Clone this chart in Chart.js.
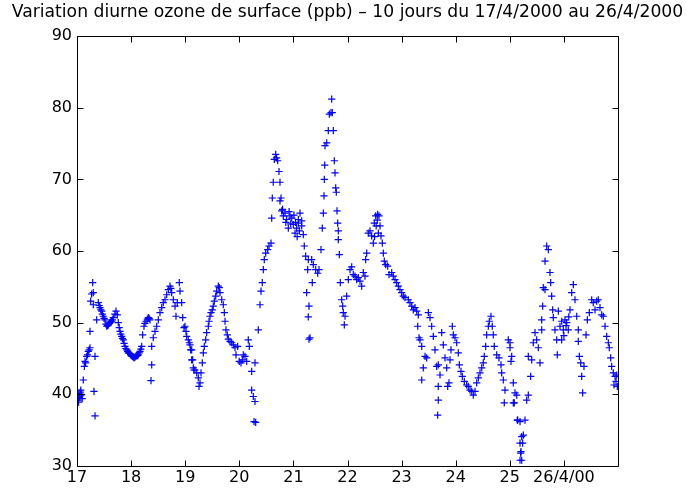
<!DOCTYPE html>
<html><head><meta charset="utf-8">
<script src="https://cdn.jsdelivr.net/npm/chart.js@4.4.1/dist/chart.umd.min.js"></script>
<style>html,body{margin:0;padding:0;background:#fff;overflow:hidden}</style>
</head><body>
<canvas id="c" width="686" height="489"></canvas>
<script>
const titleText = 'Variation diurne ozone de surface (ppb) \u2013 10 jours du 17/4/2000 au 26/4/2000';
const xTickValues = [17, 18, 19, 20, 21, 22, 23, 24, 25, 26];
const xTickLabels = ['17', '18', '19', '20', '21', '22', '23', '24', '25', '26/4/00'];
const yTickValues = [30, 40, 50, 60, 70, 80, 90];

const days = [
17.000,17.012,17.024,17.036,17.048,17.060,17.072,17.084,17.096,17.116,
17.135,17.148,17.160,17.179,17.195,17.209,17.225,17.240,17.240,17.253,
17.270,17.290,17.301,17.301,17.314,17.333,17.333,17.364,17.394,17.410,
17.425,17.440,17.457,17.470,17.486,17.500,17.518,17.535,17.549,17.565,
17.579,17.595,17.610,17.625,17.641,17.655,17.671,17.700,17.721,17.745,
17.763,17.780,17.795,17.810,17.826,17.840,17.856,17.870,17.887,17.903,
17.919,17.935,17.948,17.965,17.980,17.995,18.011,18.026,18.041,18.056,
18.072,18.088,18.104,18.118,18.133,18.150,18.165,18.180,18.196,18.214,
18.238,18.255,18.275,18.300,18.318,18.334,18.349,18.381,18.368,18.381,
18.410,18.442,18.473,18.503,18.534,18.566,18.595,18.627,18.658,18.688,
18.719,18.735,18.750,18.780,18.812,18.830,18.854,18.891,18.904,18.935,
18.954,18.978,18.996,19.015,19.028,19.057,19.075,19.089,19.101,19.120,
19.120,19.138,19.150,19.163,19.181,19.213,19.242,19.255,19.274,19.292,
19.316,19.335,19.353,19.379,19.397,19.427,19.440,19.458,19.477,19.501,
19.519,19.538,19.564,19.582,19.612,19.630,19.643,19.675,19.704,19.723,
19.736,19.754,19.778,19.797,19.828,19.860,19.889,19.920,19.939,19.970,
20.000,20.031,20.055,20.074,20.105,20.137,20.166,20.185,20.229,20.290,
20.229,20.259,20.290,20.272,20.303,20.351,20.383,20.401,20.425,20.444,
20.462,20.488,20.525,20.549,20.586,20.599,20.610,20.628,20.647,20.673,
20.690,20.710,20.734,20.752,20.771,20.752,20.784,20.813,20.845,20.876,
20.906,20.937,20.969,20.998,21.030,21.061,21.091,21.122,21.153,21.091,
21.153,21.183,21.201,21.227,21.275,21.264,21.338,21.368,21.412,21.449,
21.473,21.349,21.245,21.288,21.275,21.307,21.288,21.510,21.534,21.553,
21.566,21.571,21.579,21.584,21.616,21.645,21.664,21.695,21.708,21.719,
21.738,21.756,21.769,21.782,21.793,21.806,21.819,21.830,21.830,21.849,
21.867,21.893,21.911,21.922,21.941,21.954,21.985,22.015,22.046,22.078,
22.107,22.139,22.170,22.200,22.231,22.262,22.292,22.323,22.336,22.355,
22.384,22.416,22.447,22.477,22.495,22.521,22.558,22.582,22.601,22.619,
22.643,22.662,22.680,22.706,22.743,22.767,22.817,22.846,22.878,22.909,
22.939,22.970,23.002,23.031,23.063,23.124,23.155,23.187,23.216,23.248,
23.279,23.309,23.298,23.322,23.340,23.372,23.433,23.401,23.372,23.464,
23.494,23.525,23.556,23.586,23.617,23.649,23.678,23.710,23.678,23.667,
23.678,23.741,23.771,23.802,23.834,23.852,23.876,23.895,23.913,23.937,
23.956,23.987,24.019,24.048,24.067,24.098,24.122,24.159,24.203,24.233,
24.264,24.296,24.325,24.357,24.388,24.418,24.449,24.481,24.510,24.528,
24.554,24.573,24.603,24.621,24.652,24.676,24.695,24.713,24.758,24.800,
24.837,24.850,24.880,24.911,24.898,24.972,25.004,25.022,25.065,25.096,
25.083,25.146,25.189,25.220,25.238,25.207,25.189,25.004,25.035,25.128,
25.065,25.139,25.281,25.250,25.189,25.201,25.220,25.342,25.312,25.386,
25.342,25.405,25.434,25.466,25.497,25.527,25.558,25.590,25.590,25.619,
25.651,25.608,25.682,25.712,25.651,25.743,25.756,25.774,25.793,25.804,
25.835,25.867,25.878,25.897,25.928,25.959,25.989,26.020,26.052,26.081,
26.113,26.144,26.174,26.205,26.237,26.266,26.266,26.285,26.311,26.329,
26.347,26.371,26.409,26.433,26.470,26.514,26.543,26.575,26.606,26.636,
26.667,26.699,26.728,26.760,26.791,26.821,26.839,26.865,26.883,26.913,
26.945,26.976,26.987,26.926,26.963,20.800,20.860,20.920,20.950,21.010,
21.040,21.070,21.110,22.500,22.530,22.550,22.570,25.960,26.000,26.040,
26.090,17.030,17.070
];

const ozone = [
39.5,40.0,39.2,40.1,39.6,40.3,39.8,40.0,39.4,42.0,
43.9,44.6,44.4,45.3,45.5,46.0,46.2,46.5,48.8,53.0,
54.0,55.6,54.2,52.5,40.4,37.0,45.3,50.4,52.8,52.4,
52.1,51.8,51.6,51.2,50.9,50.6,50.4,49.8,49.5,49.6,
49.7,49.9,50.0,50.1,50.2,50.4,50.7,51.2,51.6,51.1,
50.0,49.3,48.8,48.4,48.1,47.8,47.6,47.1,46.7,46.4,
46.2,46.0,45.8,45.7,45.7,45.5,45.4,45.3,45.2,45.1,
45.2,45.3,45.4,45.4,45.5,45.8,46.0,46.3,46.7,48.3,
49.5,49.9,50.2,50.5,50.7,50.6,50.4,44.1,41.9,46.7,
47.9,48.8,49.5,50.4,51.4,52.1,52.8,53.2,53.9,54.6,
55.1,54.8,54.2,53.2,52.3,50.9,52.8,55.6,54.4,52.8,
50.7,49.3,49.5,48.8,48.1,47.6,47.2,46.9,46.2,46.2,
44.8,44.8,43.7,43.4,43.4,43.0,42.3,41.1,41.6,43.0,
44.4,45.8,46.7,47.6,48.6,49.5,50.2,50.9,51.4,51.8,
52.3,53.0,53.7,54.4,55.1,54.9,54.2,53.2,52.5,51.4,
50.2,49.0,48.3,47.7,47.4,47.2,46.9,46.5,45.5,46.7,
44.6,44.4,44.8,45.5,45.3,44.6,47.6,46.7,43.2,44.4,
40.6,39.7,39.0,36.2,36.1,49.0,52.5,54.4,55.6,57.4,
58.8,59.7,60.2,60.7,61.1,64.6,67.4,69.6,72.8,73.5,
73.0,72.6,71.1,69.6,67.4,67.0,65.6,64.9,65.3,64.4,
63.2,64.9,64.6,63.7,62.5,63.2,64.4,65.3,64.2,63.9,
63.5,62.3,60.7,59.3,58.8,57.4,58.8,58.1,57.4,56.9,
57.4,55.6,54.2,52.3,50.8,47.9,47.7,60.2,63.2,65.3,
67.7,70.0,72.0,74.7,75.1,76.8,79.1,79.3,81.2,79.3,
76.8,72.6,70.9,68.8,68.2,65.6,63.9,62.8,61.6,59.5,
55.6,53.2,52.3,51.4,49.7,50.9,53.7,56.0,57.4,57.8,
56.7,56.5,56.0,56.3,55.8,55.1,57.0,56.5,58.8,59.7,
62.5,62.8,62.1,61.1,63.9,64.9,65.1,64.9,63.5,62.1,
61.1,59.7,58.6,58.1,57.9,56.7,57.0,56.5,56.0,55.6,
55.1,54.6,54.2,53.7,53.5,53.2,52.8,52.3,51.8,52.1,
51.6,51.1,49.5,47.9,47.6,46.7,45.3,43.7,42.0,45.1,
51.4,50.7,49.5,48.1,46.2,43.9,44.1,42.7,41.1,37.1,
39.2,48.6,46.9,45.1,43.7,41.1,41.6,44.8,46.2,49.5,
48.3,47.9,47.2,45.8,44.1,43.2,42.5,41.8,41.3,41.1,
40.6,40.4,39.9,40.4,41.6,42.3,43.0,43.7,44.4,45.3,
46.7,48.3,49.5,50.2,50.9,49.5,48.3,46.7,45.5,45.1,
44.1,43.0,42.0,40.6,38.8,47.6,46.5,44.6,41.6,40.2,
38.8,36.4,36.2,34.1,33.2,32.0,30.8,47.2,45.3,39.9,
38.8,36.4,36.4,34.3,33.2,31.8,30.8,39.9,39.2,42.5,
45.3,44.8,47.2,48.6,47.6,46.5,44.4,49.0,50.4,54.9,
54.6,52.3,60.7,60.2,58.6,57.0,55.6,53.7,51.8,50.7,
49.0,47.6,45.5,51.6,49.5,47.6,49.0,50.4,50.0,49.0,
51.8,54.2,55.3,53.2,50.9,49.0,47.4,45.3,44.4,42.5,
40.2,43.9,48.3,50.4,51.4,53.2,52.8,51.8,53.0,53.2,
52.1,51.1,50.9,49.5,48.1,47.2,46.5,45.1,43.9,43.0,
42.5,42.7,41.1,41.3,41.8,65.8,64.0,65.5,63.8,65.0,
64.0,62.0,62.8,62.0,63.5,64.3,62.5,50.2,48.2,49.6,
50.8,38.9,40.6
];

const points = days.map((d, i) => ({ x: d, y: ozone[i] }));
const FONT = "'DejaVu Sans', Verdana, sans-serif";

const framePlugin = {
  id: 'matlabFrame',
  afterDraw(chart) {
    const { ctx, chartArea: a, scales } = chart;
    const L = Math.round(a.left) + 0.5, R = Math.round(a.right) + 0.5;
    const T = Math.round(a.top) + 0.5, B = Math.round(a.bottom) + 0.5;
    const tl = 6;
    ctx.save();
    ctx.strokeStyle = '#000';
    ctx.lineWidth = 1;
    ctx.beginPath();
    ctx.rect(L, T, R - L, B - T);
    xTickValues.forEach(v => {
      const px = Math.round(scales.x.getPixelForValue(v)) + 0.5;
      ctx.moveTo(px, B); ctx.lineTo(px, B - tl);
      ctx.moveTo(px, T); ctx.lineTo(px, T + tl);
    });
    yTickValues.forEach(v => {
      const py = Math.round(scales.y.getPixelForValue(v)) + 0.5;
      ctx.moveTo(L, py); ctx.lineTo(L + tl, py);
      ctx.moveTo(R, py); ctx.lineTo(R - tl, py);
    });
    ctx.stroke();
    ctx.restore();
  }
};

new Chart(document.getElementById('c'), {
  type: 'scatter',
  data: {
    datasets: [{
      data: points,
      pointStyle: 'cross',
      pointRadius: 3.6,
      pointHoverRadius: 3.6,
      borderColor: '#0000ff',
      backgroundColor: '#0000ff',
      borderWidth: 1.2,
      pointBorderWidth: 1.2
    }]
  },
  options: {
    responsive: false,
    animation: false,
    devicePixelRatio: 1,
    events: [],
    layout: { padding: { left: 9, right: 0, top: 0, bottom: 0 } },
    plugins: {
      legend: { display: false },
      tooltip: { enabled: false },
      title: {
        display: true,
        text: titleText,
        color: '#000',
        font: { family: FONT, size: 17.2, weight: 'normal', lineHeight: 1.2 },
        padding: { top: 2, bottom: 13.4 }
      }
    },
    scales: {
      x: {
        type: 'linear', min: 17, max: 27,
        afterBuildTicks(s) { s.ticks = xTickValues.map(v => ({ value: v })); },
        afterFit(s) { s.height = 23; },
        ticks: {
          autoSkip: false, maxRotation: 0, color: '#000', padding: 2,
          font: { family: FONT, size: 16 },
          callback: (v) => xTickLabels[xTickValues.indexOf(v)]
        },
        grid: { display: false, drawTicks: false },
        border: { display: false }
      },
      y: {
        type: 'linear', min: 30, max: 90,
        afterBuildTicks(s) { s.ticks = yTickValues.map(v => ({ value: v })); },
        afterFit(s) { s.width = 68; },
        ticks: {
          color: '#000', padding: 5,
          font: { family: FONT, size: 16 }
        },
        grid: { display: false, drawTicks: false },
        border: { display: false }
      },
      y2: {
        type: 'linear', position: 'right', min: 30, max: 90,
        afterFit(s) { s.width = 68; },
        ticks: { display: false },
        grid: { display: false, drawTicks: false },
        border: { display: false }
      }
    }
  },
  plugins: [framePlugin]
});
</script>
</body></html>
